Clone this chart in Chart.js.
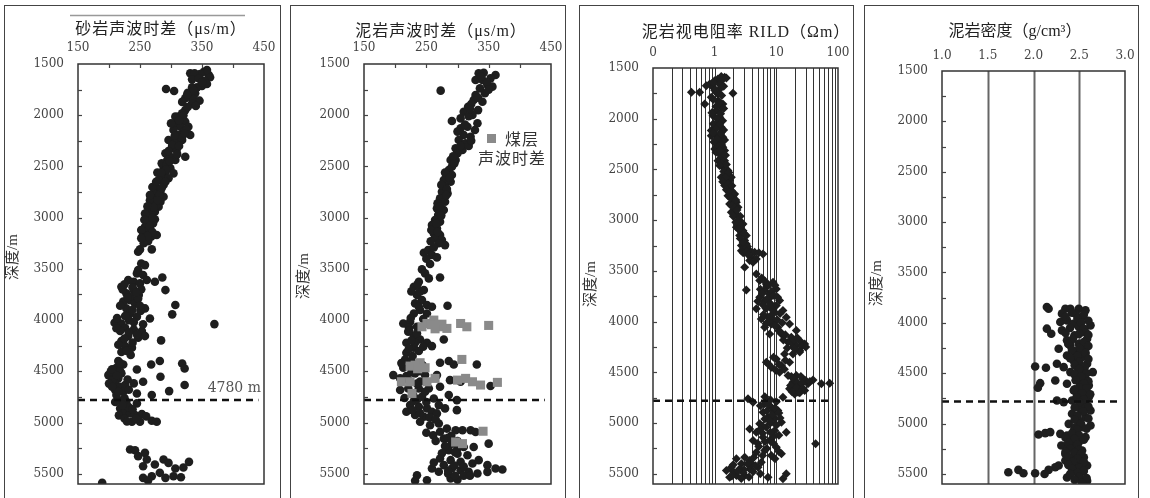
<!DOCTYPE html>
<html><head><meta charset="utf-8">
<script src="https://cdn.jsdelivr.net/npm/chart.js@4.4.1/dist/chart.umd.min.js"></script>
<style>
html,body{margin:0;padding:0;background:#fff;}
body{width:1150px;height:498px;position:relative;overflow:hidden;}
.panel{position:absolute;top:0;height:498px;}
.frame{position:absolute;border:1.5px solid #444;top:5px;height:540px;box-sizing:border-box;}
</style></head><body>
<div class="frame" style="left:4px;width:277px"></div>
<div class="frame" style="left:290px;width:276px"></div>
<div class="frame" style="left:579px;width:275px"></div>
<div class="frame" style="left:864px;width:275px"></div>
<script>
// ---------- tick labels / categories ----------
const depthTicks = [1500, 2000, 2500, 3000, 3500, 4000, 4500, 5000, 5500];
const depthMinorTicks = [1750,2000,2250,2500,2750,3000,3250,3500,3750,4000,4250,4500,4750,5000,5250,5500];
const sonicTicks = [150, 250, 350, 450];
const sonicMinorTicks = [200, 250, 300, 350, 400];
const rildTicks = [0.1, 1, 10, 100];
const rildTickLabels = ['0', '1', '10', '100'];
const rildGrid = [0.2,0.3,0.4,0.5,0.6,0.7,0.8,0.9,1,2,3,4,5,6,7,8,9,10,20,30,40,50,60,70,80,90];
const densityTicks = [1.0, 1.5, 2.0, 2.5, 3.0];
const densityTickLabels = ['1.0', '1.5', '2.0', '2.5', '3.0'];
const densityGrid = [1.5, 2.0, 2.5];
const boundaryDepth = 4780;

// ---------- series: [x, depth] ----------
const sandstoneSonic = [
[353,1575],[361,1607],[358,1559],[363,1630],[347,1598],[331,1591],[338,1591],[334,1650],[354,1663],[350,1715],[342,1728],[358,1695],[334,1728],[327,1780],[339,1786],[331,1819],[323,1835],[336,1845],[346,1858],[334,1884],[340,1910],[292,1744],[305,1764],[323,1950],[318,1982],[312,2014],
[307,2014],[318,2030],[323,2063],[309,2080],[315,2112],[328,2112],[304,2144],[320,2161],[312,2193],[331,2193],[296,2242],[307,2258],[318,2242],[301,2323],[309,2340],[323,2405],[291,2372],[299,2405],[307,2437],[294,2437],[288,2502],[299,2519],
[291,2551],[304,2568],[285,2600],[296,2616],[280,2633],[288,2682],[277,2714],[283,2747],[272,2763],[288,2796],[274,2812],[283,2844],[269,2861],[280,2893],[264,2926],[274,2942],[268,2974],[263,2991],[274,3016],
[261,3040],[271,3056],[258,3089],[266,3105],[261,3138],[255,3170],[268,3187],[259,3219],[277,3170],[247,3333],[250,3310],[269,3310],[252,3447],[247,3512],
[258,3463],[245,3544],[255,3560],[231,3609],[240,3625],[250,3642],[220,3674],[261,3609],[274,3625],[286,3584],[240,3707],[228,3739],[248,3755],[291,3707],[234,3805],[242,3837],[228,3886],[258,3886],[307,3853],[302,3944],[234,3935],[245,3967],[209,4026],[220,4033],[266,3984],[370,4039],
[226,4075],[240,4091],[218,4107],[253,4107],[231,4156],[247,4172],[220,4205],[258,4156],[284,4198],[226,4254],[237,4270],[220,4312],[215,4400],[223,4433],[212,4465],[268,4433],[282,4400],[318,4423],[322,4472],[245,4482],
[199,4537],[207,4553],[215,4569],[220,4520],[210,4618],[218,4651],[226,4634],[210,4683],[240,4618],[255,4602],[283,4553],[322,4634],[297,4693],[269,4732],[223,4700],[245,4716],[215,4781],[228,4797],[245,4813],[218,4862],[226,4895],[234,4911],[242,4927],[253,4918],[237,4993],[250,4993],[269,4983],[277,4993],
[234,5263],[242,5271],[247,5328],[258,5296],[261,5361],[255,5426],[274,5410],[288,5361],[296,5394],[307,5449],[320,5439],[329,5384],[282,5491],[269,5524],[255,5540],[291,5540],[263,5566],[189,5589],[304,5524],[316,5534],
[300,2080],[325,2140],[317,2220],[302,2290],[313,2300],[296,2350],[285,2470],[293,2480],[278,2560],[291,2650],[270,2700],[281,2780],[266,2830],[276,2880],[258,2960],[265,3080],[252,3120],[270,3140],[263,3230],[256,3250],
[222,3700],[235,3770],[247,3790],[223,3820],[251,3910],[213,3980],[232,4000],[255,4040],[215,4240],[235,4340],[205,4590],[203,4500],[212,4730],[225,4760],[232,4850],[260,4940],[216,4930],[225,4960],
[345,1640],[350,1680],[337,1760],[326,1800],[318,1870],[327,1920],[320,2000],[313,2050],[322,2180],[306,2200],[310,2380],[298,2450],[292,2530],[284,2560],[276,2650],[285,2710],[266,2780],[278,2830],[272,2900],[262,2890],[270,3000],[257,3020],[262,3180],[252,3200],
[225,3650],[238,3680],[252,3700],[230,3780],[244,3730],[218,3860],[238,3900],[250,3860],[226,3960],[240,4020],[212,4080],[232,4120],[245,4140],[225,4180],[238,4220],[228,4300],[218,4420],[205,4480],[218,4500],[230,4580],[200,4620],[215,4700],[232,4680],[222,4830],[238,4870],[210,4800],[244,4960],[229,4990],[205,4650],[213,4540]
];
const mudstoneSonic = [
[334,1591],[342,1585],[361,1607],[353,1640],[340,1656],[329,1656],[348,1705],[356,1721],[336,1738],[344,1786],[329,1803],[326,1852],[340,1868],[273,1760],[317,1917],[333,1950],[310,1966],[291,2057],[305,2031],[324,1998],[332,2079],[316,2112],[305,2128],[328,2144],[310,2193],[321,2210],[302,2242],[313,2275],[297,2323],[308,2340],[300,2372],[289,2437],[297,2437],[291,2502],[286,2535],[283,2584],[291,2584],[278,2633],[289,2649],[280,2698],[275,2747],[284,2763],[272,2812],[280,2844],[267,2909],[278,2926],[269,2974],[264,3023],[272,3040],[259,3072],[267,3105],[262,3154],[272,3170],[264,3203],[275,3219],[280,3268],[246,3343],[253,3317],[259,3365],[267,3388],[256,3453],[243,3505],[248,3544],[254,3593],[272,3584],[238,3625],[230,3674],[246,3707],[235,3755],[243,3805],[232,3837],[251,3853],[259,3870],[284,3860],[240,3902],[230,3935],[251,3935],[213,4033],[224,4016],[235,4065],[221,4114],[230,4156],[240,4189],[218,4221],[230,4270],[238,4302],[251,4221],[259,4254],[278,4189],[218,4318],[216,4384],[226,4400],[272,4416],[286,4400],[294,4433],[331,4433],[213,4465],[197,4537],[208,4569],[218,4546],[232,4520],[248,4537],[267,4537],[288,4586],[305,4602],[208,4683],[221,4667],[238,4667],[254,4667],[272,4651],[353,4644],[229,4732],[243,4748],[262,4765],[286,4732],[299,4781],[224,4830],[238,4846],[251,4862],[218,4895],[232,4927],[246,4944],[259,4895],[267,4911],[280,4862],[299,4879],[240,4993],[256,5026],[270,5010],[283,5059],[297,5075],[308,5075],[321,5075],[329,5092],[261,5124],[278,5157],[291,5206],[310,5239],[326,5239],[350,5206],[286,5271],[300,5305],[316,5320],[272,5351],[289,5367],[305,5384],[324,5400],[334,5367],[348,5416],[278,5416],[291,5449],[305,5466],[318,5482],[332,5498],[361,5449],[372,5459],[259,5449],[235,5514],[232,5568],[251,5563],[289,5547],[300,5557],[348,5482],
[347,1680],[322,1890],[318,2010],[300,2160],[318,2300],[293,2400],[280,2560],[274,2680],[283,2720],[268,2860],[274,2980],[258,3120],[270,3250],[262,3290],
[240,3720],[225,3980],[245,3990],[228,4350],[244,4440],[226,4510],[240,4600],[230,4790],[250,4800],[270,4830],[290,5130],[300,5180],[300,5250],[295,5420],[310,5520],[285,5500],
[338,1620],[350,1750],[333,1830],[320,1940],[312,2090],[322,2250],[305,2300],[295,2470],[287,2610],[282,2780],[272,2890],[266,3060],[268,3140],[257,3230],[250,3400],[236,3650],[226,3720],[238,3870],[222,4070],[232,4220],
[222,4100],[235,4130],[226,4200],[245,4260],[222,4280],[210,4420],[232,4470],[240,4500],[222,4590],[235,4620],[248,4700],[215,4760],[236,4770],[228,4880],[240,4910],[255,4950],[265,4970],[250,5100],[272,5090],[285,5150],[265,5180],[280,5230],[296,5290],[275,5300],[262,5390],[285,5470],[310,5430],[296,5520],[270,5480],[320,5520]
];
const coalSonic = [
[251,4033],[262,4000],[270,4065],[283,4081],[243,4065],[305,4033],[315,4065],[350,4052],[258,4045],[275,4040],[264,4085],
[224,4449],[240,4416],[248,4465],[232,4440],[236,4475],[307,4384],
[210,4602],[224,4602],[251,4602],[264,4569],[300,4586],[313,4569],[324,4602],[337,4634],[364,4608],[227,4716],
[297,5190],[308,5206],[341,5085]
];
const mudstoneRild = [
[1.45,1592],[1.28,1585],[1.13,1608],[1.00,1625],[1.55,1599],[0.83,1658],[0.73,1674],[0.94,1690],[1.21,1707],[0.57,1740],[0.42,1740],[1.98,1750],[1.06,1740],[0.69,1855],[0.88,1789],[1.13,1756],[1.36,1855],[1.06,1920],[0.94,1970],[1.21,1986],[1.00,2068],[0.88,2117],[1.28,2085],[1.06,2167],[1.36,2183],[0.88,2167],[1.21,2249],[1.00,2298],[1.45,2314],[1.28,2380],[1.13,2413],[1.36,2479],[1.55,2544],[1.28,2577],[1.75,2610],[1.45,2659],[1.86,2708],[1.64,2758],[1.98,2807],[1.75,2840],[2.39,2873],[2.11,2938],[1.86,2922],[2.54,3004],[2.25,3070],[2.88,3103],[2.54,3152],[3.07,3201],[2.71,3250],[3.26,3234],[3.70,3300],[2.71,3300],[4.45,3316],[6.08,3333],[3.93,3365],[4.74,3382],[3.07,3464],[3.70,3398],[4.19,3415],[4.74,3530],[3.26,3687],
[5.37,3595],[6.88,3628],[8.83,3612],[6.47,3694],[10.0,3677],[7.80,3727],[5.37,3759],[11.3,3792],[6.47,3792],[4.74,3874],[7.80,3858],[9.40,3907],[12.8,3891],[5.71,3973],[7.33,3956],[14.5,3956],[6.47,4055],[8.30,4022],[10.6,4055],[16.4,4022],[21.1,4088],[7.80,4121],[12.1,4121],[17.5,4153],[25.4,4203],[15.5,4203],[21.1,4236],[28.8,4219],[23.9,4285],[18.6,4318],[13.6,4318],[10.0,4367],[6.88,4400],[8.30,4449],[12.1,4433],[16.4,4400],[11.3,4498],[15.5,4531],[21.1,4531],[27.1,4564],[39.3,4574],[18.6,4597],[23.9,4630],[32.6,4613],[16.4,4662],[22.5,4695],[28.8,4679],[19.8,4712],[12.8,4745],[53.7,4613],[73.3,4607],
[3.47,4761],[4.19,4794],[6.47,4810],[8.30,4843],[10.6,4876],[6.08,4892],[7.33,4942],[9.40,4958],[12.1,4991],[5.37,5007],[6.88,5040],[9.40,5073],[3.70,5057],[4.74,5089],[14.5,5089],[6.08,5139],[7.80,5171],[4.19,5171],[10.0,5237],[6.47,5270],[4.74,5286],[8.30,5319],[12.1,5303],[3.07,5336],[3.70,5369],[5.71,5385],[2.25,5352],[2.71,5401],[1.86,5434],[1.55,5467],[2.54,5451],[3.70,5451],[5.04,5434],[2.25,5516],[3.07,5516],[1.75,5533],[7.33,5533],[12.8,5549],[14.5,5500],[43.4,5204],
[1.28,1625],[1.13,1822],[1.28,1888],[1.13,2035],[1.28,2134],[1.13,2216],[1.36,2282],[1.21,2347],[1.45,2413],[1.64,2511],[1.86,2577],[1.64,2675],[2.11,2741],[2.25,2823],[2.39,2955],[2.88,3037],[2.71,3119],[3.26,3152],[3.07,3267],
[7.0,3650],[8.0,3760],[6.0,3830],[9.0,3990],[11.0,4090],[13.0,4180],[19.0,4250],[20.0,4600],[25.0,4650],[7.0,4880],[9.0,4900],[8.0,5000],[6.0,5100],[5.0,5200],[9.0,5130],[4.0,5400],[2.0,5480],[3.0,5460],
[0.95,1640],[1.2,1660],[1.4,1680],[1.0,1720],[1.3,1770],[0.95,1810],[1.2,1840],[1.05,1880],[1.4,1900],[0.9,1940],[1.25,1950],[1.1,2000],[1.35,2020],[0.95,2050],[1.2,2060],[1.05,2100],[1.4,2110],[0.95,2140],[1.25,2150],[1.1,2200],[1.45,2210],[0.97,2230],[1.3,2260],[1.15,2270],[1.05,2330],[1.35,2340],[1.2,2310],[1.5,2360],[1.3,2440],[1.55,2450],[1.2,2460],[1.4,2520],[1.7,2530],[1.5,2580],[1.35,2620],[1.65,2640],[1.9,2660],[1.55,2700],[1.75,2730],[2.0,2760],[1.8,2780],[2.2,2800],[1.9,2860],[2.1,2880],[2.3,2900],[2.0,2960],[2.6,2960],[2.4,3000],[2.2,3020],[2.7,3050],[2.45,3090],[3.0,3130],[2.6,3180],[2.9,3220],[3.4,3260],[3.1,3290],[2.9,3320],[3.3,3310],[5.2,3320],[3.5,3340],
[5.8,3570],[6.5,3600],[7.5,3640],[9.5,3640],[5.5,3680],[8.5,3700],[6.0,3720],[9.0,3740],[7.0,3780],[10.5,3760],[5.0,3800],[8.0,3820],[10.0,3840],[6.8,3870],[8.8,3880],[11.5,3920],[6.2,3930],[8.2,3940],[10.3,3980],[7.5,4000],[12.5,4010],[9.5,4040],[6.8,4020],
[11.5,4100],[14.0,4130],[17.0,4200],[19.5,4180],[22.0,4160],[26.0,4240],[30.0,4250],[24.0,4300],[20.0,4270],[15.0,4260],
[9.0,4350],[11.0,4420],[7.5,4420],[13.5,4470],[9.8,4480],[14.0,4380],
[17.5,4540],[25.0,4540],[30.0,4580],[19.0,4560],[22.0,4600],[26.0,4610],[17.0,4630],[21.0,4650],[27.0,4660],[24.0,4700],[18.0,4690],[35.0,4590],
[6.5,4740],[8.0,4770],[10.0,4790],[5.5,4830],[7.5,4820],[9.5,4850],[11.0,4900],[8.5,4920],[6.5,4960],[11.5,4950],[7.8,4980],[10.0,5020],[6.0,5030],
[5.5,5060],[8.0,5090],[11.0,5120],[6.5,5180],[9.0,5200],[5.2,5230],[7.0,5250],[11.0,5280],[6.0,5320],[4.3,5340],[9.5,5350],
[3.4,5400],[4.6,5420],[2.0,5410],[2.9,5490],[4.2,5480],[2.4,5470],[1.9,5520],[3.6,5530],[2.7,5545],[5.5,5500]
];
const mudstoneDensity = [
[2.146,3843],[2.165,3860],[2.348,3860],[2.403,3860],[2.495,3860],[2.568,3876],[2.311,3909],[2.458,3909],[2.531,3942],[2.366,3976],[2.293,3992],[2.436,4009],[2.623,4025],[2.495,4042],[2.146,4058],[2.194,4108],[2.311,4075],[2.568,4092],[2.447,4125],[2.366,4174],[2.586,4158],[2.495,4208],[2.403,4224],[2.275,4257],[2.568,4257],[2.454,4290],[2.366,4324],[2.531,4340],[2.436,4373],[2.256,4406],[2.586,4406],[2.018,4433],[2.136,4446],[2.330,4440],[2.403,4489],[2.513,4473],[2.648,4489],[2.238,4572],[2.458,4522],[2.568,4555],[2.366,4605],[2.513,4605],[2.604,4621],[2.073,4599],[2.048,4645],[2.440,4671],[2.549,4688],[2.495,4721],[2.604,4738],[2.256,4771],[2.330,4787],[2.421,4771],[2.568,4804],[2.513,4854],[2.623,4870],[2.421,4903],[2.568,4936],[2.495,4969],[2.385,5003],[2.623,5019],[2.531,5036],[2.440,5069],[2.055,5108],[2.128,5095],[2.183,5085],[2.293,5102],[2.366,5118],[2.568,5135],[2.403,5168],[2.495,5185],[2.304,5218],[2.436,5234],[2.531,5268],[2.348,5301],[2.458,5317],[2.550,5334],[2.403,5367],[2.495,5400],[2.586,5417],[2.275,5417],[2.238,5433],[2.165,5460],[1.725,5483],[1.835,5460],[1.890,5493],[2.018,5493],[2.121,5500],[2.366,5536],[2.495,5516],[2.550,5556],[2.586,5569],[2.458,5467],
[2.513,4307],[2.480,4440],[2.531,4539],[2.476,4705],[2.531,4837],[2.458,5036],[2.385,5234],[2.421,5334],[2.348,5367],[2.458,5417],[2.568,5566],
[2.42,3900],[2.55,3920],[2.35,3940],[2.48,3960],[2.6,3980],[2.52,4000],[2.4,4050],[2.55,4060],[2.35,4100],[2.5,4110],[2.6,4120],[2.43,4160],[2.55,4190],[2.38,4210],[2.6,4230],[2.5,4250],[2.42,4270],[2.57,4300],[2.48,4330],[2.4,4350],[2.6,4360],[2.5,4390],[2.45,4420],[2.56,4440],[2.5,4460],[2.58,4500],[2.45,4510],[2.52,4530],[2.6,4580],[2.46,4570],[2.55,4600],[2.5,4640],[2.58,4650],[2.45,4660],[2.53,4700],[2.62,4710],[2.47,4740],[2.55,4760],[2.5,4790],[2.6,4830],[2.45,4840],[2.54,4880],[2.48,4920],[2.6,4950],[2.45,4960],[2.52,5000],[2.58,5050],[2.48,5060],[2.42,5100],[2.5,5120],[2.35,5140],[2.45,5150],[2.55,5160],[2.38,5190],[2.48,5210],[2.4,5250],[2.5,5260],[2.35,5280],[2.45,5290],[2.52,5300],[2.38,5330],[2.48,5350],[2.43,5380],[2.55,5380],[2.38,5410],[2.5,5440],[2.42,5450],[2.55,5470],[2.48,5490],[2.4,5500],[2.5,5530],[2.58,5540],[2.45,5560],[2.53,5590]
];

// ---------- helpers ----------
const NUM_FONT = '"DejaVu Serif", "Liberation Serif", serif';
const CJK_FONT = '"Noto Sans CJK SC", sans-serif';
const TITLE_FONT = '16px "Liberation Serif", "Noto Sans CJK SC", serif';
const DOT = '#1e1e1e';
const toXY = arr => arr.map(p => ({x: p[0], y: p[1]}));
const boundaryLine = (x0, x1) => ({
  data: [{x: x0, y: boundaryDepth}, {x: x1, y: boundaryDepth}],
  showLine: true, borderColor: '#111', borderWidth: 2.5, borderDash: [7, 5],
  pointRadius: 0, order: 0, fill: false
});

function buildPanel(p) {
  const holder = document.createElement('div');
  holder.className = 'panel';
  holder.style.left = p.left + 'px';
  holder.style.width = p.width + 'px';
  const cv = document.createElement('canvas');
  cv.width = p.width; cv.height = 498;
  cv.style.width = p.width + 'px'; cv.style.height = '498px';
  holder.appendChild(cv);
  document.body.appendChild(holder);
  const L = p.left;

  const decor = {
    id: 'decor' + L,
    beforeDatasetsDraw(chart) {
      const {ctx, chartArea: a, scales: {x}} = chart;
      if (p.gridVals) {
        ctx.save();
        ctx.strokeStyle = p.gridColor; ctx.lineWidth = p.gridWidth;
        p.gridVals.forEach(v => {
          const px = Math.round(x.getPixelForValue(v)) + 0.5;
          ctx.beginPath(); ctx.moveTo(px, a.top); ctx.lineTo(px, a.bottom); ctx.stroke();
        });
        ctx.restore();
      }
    },
    afterDatasetsDraw(chart) {
      const {ctx, chartArea: a, scales: {x, y}} = chart;
      ctx.save();
      ctx.strokeStyle = '#333'; ctx.lineWidth = 1.5;
      ctx.strokeRect(a.left, a.top, a.right - a.left, a.bottom - a.top);
      ctx.lineWidth = 1.2; ctx.strokeStyle = '#444';
      depthMinorTicks.forEach(v => {
        const py = Math.round(y.getPixelForValue(v)) + 0.5;
        ctx.beginPath(); ctx.moveTo(a.left, py); ctx.lineTo(a.left + 4, py); ctx.stroke();
      });
      (p.xMinor || []).forEach(v => {
        const px = Math.round(x.getPixelForValue(v)) + 0.5;
        ctx.beginPath(); ctx.moveTo(px, a.top); ctx.lineTo(px, a.top + 4); ctx.stroke();
      });
      ctx.restore();
    },
    afterDraw(chart) {
      const {ctx, scales: {x, y}} = chart;
      ctx.save();
      ctx.fillStyle = '#222';
      ctx.textAlign = 'center'; ctx.textBaseline = 'middle';
      ctx.font = TITLE_FONT;
      ctx.letterSpacing = p.titleSpacing || '1px';
      ctx.fillText(p.title, p.titleX - L, p.titleY);
      ctx.letterSpacing = '0px';
      ctx.save();
      ctx.translate(p.ylabX - L, p.ylabY);
      ctx.rotate(-Math.PI / 2);
      ctx.font = '15px "Liberation Serif", "Noto Sans CJK SC", serif';
      ctx.fillStyle = '#333';
      ctx.fillText('深度/m', 0, 0);
      ctx.restore();
      if (p.extra) p.extra(ctx, x, y, L);
      ctx.restore();
    }
  };

  new Chart(cv.getContext('2d'), {
    type: 'scatter',
    data: {datasets: p.datasets},
    options: {
      responsive: false, animation: false, devicePixelRatio: 1,
      layout: {autoPadding: false, padding: {left: 0, top: 0, right: L + p.width - p.plotRight, bottom: 498 - 484}},
      plugins: {legend: {display: false}, tooltip: {enabled: false}},
      scales: {
        x: {
          type: p.xType, position: 'top', min: p.xMin, max: p.xMax,
          afterBuildTicks: s => { s.ticks = p.xTicks.map(v => ({value: v})); },
          afterFit: s => { s.height = p.plotTop; s.paddingLeft = 0; s.paddingRight = 0; },
          ticks: {autoSkip: false, maxRotation: 0, minRotation: 0, padding: p.xPad || 9, color: '#444',
                  font: {family: NUM_FONT, size: 12},
                  callback: (v, i) => p.xLabels[i]},
          grid: {display: false, drawTicks: false},
          border: {display: false}
        },
        y: {
          type: 'linear', reverse: true, min: 1500, max: 5600,
          afterBuildTicks: s => { s.ticks = depthTicks.map(v => ({value: v})); },
          afterFit: s => { s.width = p.plotLeft - L; s.paddingTop = 0; s.paddingBottom = 0; },
          ticks: {autoSkip: false, padding: 14, color: '#444',
                  font: {family: NUM_FONT, size: 12},
                  callback: (v, i) => String(depthTicks[i])},
          grid: {display: false, drawTicks: false},
          border: {display: false}
        }
      }
    },
    plugins: [decor]
  });
}

// Panel 1: sandstone sonic
buildPanel({
  left: 0, width: 287, plotLeft: 78, plotTop: 64, plotRight: 264,
  xType: 'linear', xMin: 150, xMax: 450, xTicks: sonicTicks, xLabels: sonicTicks.map(String),
  xMinor: sonicMinorTicks,
  title: '砂岩声波时差（μs/m）', titleX: 161, titleY: 30,
  ylabX: 13, ylabY: 257,
  datasets: [
    boundaryLine(150, 441),
    {data: toXY(sandstoneSonic), pointStyle: 'circle', pointRadius: 4.3, backgroundColor: DOT, borderWidth: 0, order: 2}
  ],
  extra(ctx, x, y, L) {
    ctx.strokeStyle = '#999'; ctx.lineWidth = 1.5;
    ctx.beginPath(); ctx.moveTo(70, 15.5); ctx.lineTo(245, 15.5); ctx.stroke();
    ctx.fillStyle = '#555'; ctx.font = '14px ' + NUM_FONT;
    ctx.textAlign = 'right'; ctx.textBaseline = 'middle';
    ctx.fillText('4780 m', x.getPixelForValue(450) - 3, y.getPixelForValue(boundaryDepth) - 12);
  }
});

// Panel 2: mudstone sonic with coal
buildPanel({
  left: 287, width: 288, plotLeft: 364, plotTop: 64, plotRight: 551,
  xType: 'linear', xMin: 150, xMax: 450, xTicks: sonicTicks, xLabels: sonicTicks.map(String),
  xMinor: sonicMinorTicks,
  title: '泥岩声波时差（μs/m）', titleX: 441, titleY: 32,
  ylabX: 304, ylabY: 276,
  datasets: [
    boundaryLine(150, 440),
    {data: toXY(coalSonic), pointStyle: 'rect', pointRadius: 6.4, backgroundColor: '#8a8a8a', borderWidth: 0, order: 1},
    {data: toXY(mudstoneSonic), pointStyle: 'circle', pointRadius: 4.3, backgroundColor: DOT, borderWidth: 0, order: 2}
  ],
  extra(ctx, x, y, L) {
    ctx.fillStyle = '#8a8a8a';
    ctx.fillRect(487 - L, 134, 9, 9);
    ctx.fillStyle = '#333'; ctx.font = '16px ' + CJK_FONT;
    ctx.textAlign = 'left'; ctx.textBaseline = 'middle';
    ctx.letterSpacing = '1px';
    ctx.fillText('煤层', 505 - L, 139);
    ctx.fillText('声波时差', 478 - L, 158);
    ctx.letterSpacing = '0px';
  }
});

// Panel 3: mudstone resistivity (log)
buildPanel({
  left: 575, width: 288, plotLeft: 653, plotTop: 68, plotRight: 838,
  xType: 'logarithmic', xMin: 0.1, xMax: 100, xTicks: rildTicks, xLabels: rildTickLabels, xPad: 8,
  gridVals: rildGrid, gridColor: '#333', gridWidth: 1,
  title: '泥岩视电阻率 RILD（Ωm）', titleX: 746, titleY: 33,
  ylabX: 591, ylabY: 284,
  datasets: [
    boundaryLine(0.1, 80),
    {data: toXY(mudstoneRild), pointStyle: 'rectRot', pointRadius: 4.5, backgroundColor: DOT, borderWidth: 0, order: 2}
  ]
});

// Panel 4: mudstone density
buildPanel({
  left: 863, width: 287, plotLeft: 942, plotTop: 71, plotRight: 1125,
  xType: 'linear', xMin: 1.0, xMax: 3.0, xTicks: densityTicks, xLabels: densityTickLabels, xPad: 8,
  gridVals: densityGrid, gridColor: '#666', gridWidth: 2,
  title: '泥岩密度（g/cm³）', titleX: 1015, titleY: 32, titleSpacing: '0px',
  ylabX: 877, ylabY: 283,
  datasets: [
    boundaryLine(1.0, 2.95),
    {data: toXY(mudstoneDensity), pointStyle: 'circle', pointRadius: 4.3, backgroundColor: DOT, borderWidth: 0, order: 2}
  ]
});
</script>
</body></html>
